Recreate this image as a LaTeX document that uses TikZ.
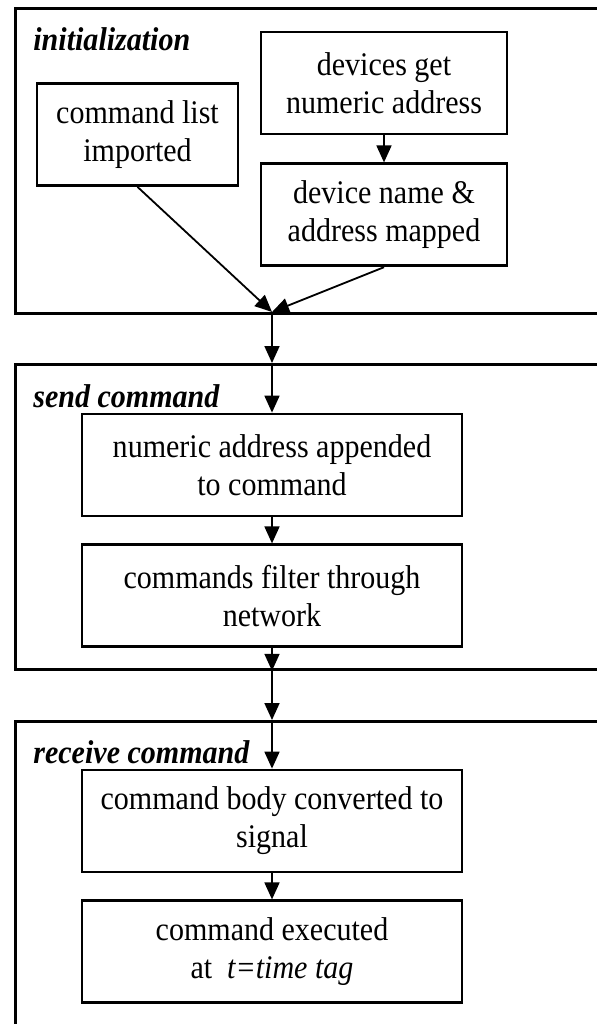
\documentclass[tikz,border=0pt]{standalone}
\usepackage{fontspec}
\setmainfont[FakeStretch=0.91]{Liberation Serif}
\usetikzlibrary{arrows.meta,positioning}

\begin{document}
\begin{tikzpicture}[
    x=0.5pt, y=-0.5pt,
    frame/.style={draw, line width=1.4pt, anchor=north west, inner sep=0pt, minimum width=293pt},
    box/.style={draw, line width=1.4pt, align=center, inner sep=2pt, minimum height=51pt, font=\fontsize{16.5}{19}\selectfont},
    stage/.style={anchor=base west, inner sep=0pt, font=\fontsize{16.5}{19}\selectfont\bfseries\itshape},
    arr/.style={-{Triangle[length=8.5pt, width=7.5pt]}, line width=0.9pt},
    node distance=13pt
]
\useasboundingbox (0,0) rectangle (596,1024);

% frames
\node[frame, minimum height=152.5pt] (init) at (14,7) {};
\node[frame, minimum height=152.5pt] (send) at (14,363) {};
\node[frame, minimum height=155pt] (recv) at (14,720) {};

\node[stage] (initlbl) at (33,50) {initialization};
\node[stage] (sendlbl) at (33,407) {send command};
\node[stage] (recvlbl) at (33,763) {receive command};

% initialization
\node[box, minimum width=100.5pt] (cmdlist) at (137.5,134.5) {command list\\imported};
\node[box, minimum width=123pt] (devaddr) at (384,83) {devices get\\numeric address};
\node[box, minimum width=123pt, below=13.5pt of devaddr] (devmap) {device name \&\\address mapped};
\coordinate (join) at (272,312);

% send command
\node[box, minimum width=190pt] (send1) at (272,465) {numeric address appended\\to command};
\node[box, minimum width=190pt, below=of send1] (send2) {commands filter through\\network};

% receive command
\node[box, minimum width=190pt] (recv1) at (272,821) {command body converted to\\signal};
\node[box, minimum width=190pt, below=of recv1] (recv2) {command executed\\at~~{\itshape t=time tag}};

\draw[arr] (devaddr) -- (devmap);
\draw[arr] (cmdlist.south) -- (join);
\draw[arr] (devmap.south) -- (join);
\draw[arr] (join) -- (send1 |- send.north);
\draw[arr] (send1 |- send.north) -- (send1);
\draw[arr] (send1) -- (send2);
\draw[arr] (send2) -- (send2 |- send.south);
\draw[arr] (send2 |- send.south) -- (recv1 |- recv.north);
\draw[arr] (recv1 |- recv.north) -- (recv1);
\draw[arr] (recv1) -- (recv2);
\end{tikzpicture}
\end{document}
